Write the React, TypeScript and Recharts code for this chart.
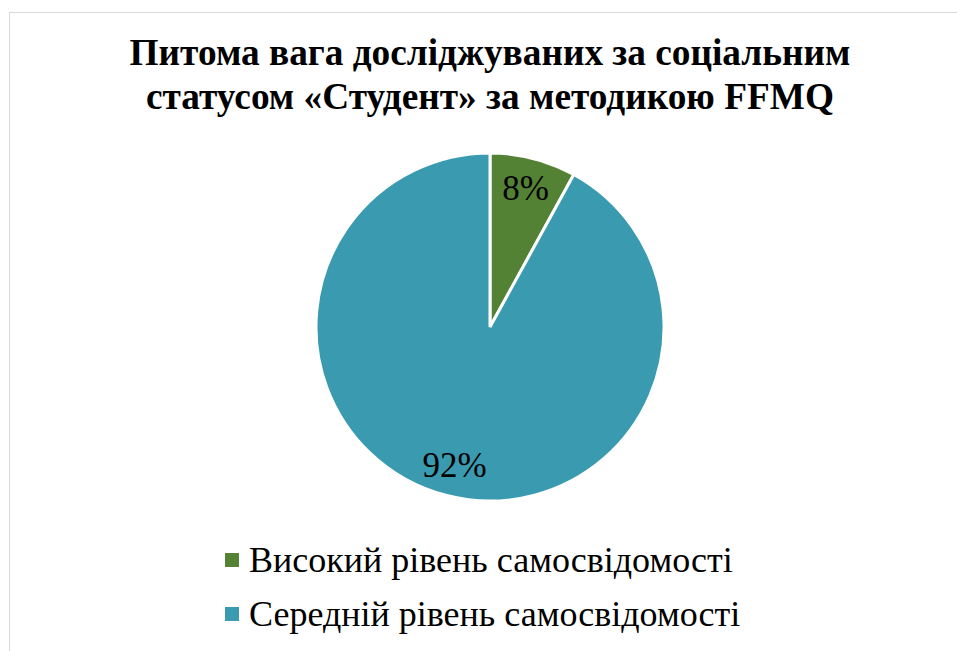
import { Cell, Legend, Pie, PieChart } from "recharts";

const levels = ["Високий рівень самосвідомості", "Середній рівень самосвідомості"];
const shares = [8, 92];
const colors = ["#548235", "#3A9AB0"];

const chartData = levels.map((name, i) => ({ name, value: shares[i], color: colors[i] }));

// no generic fallback: with one the regular face swapped to sans at large sizes
const SERIF = "Tinos";
const RAD = Math.PI / 180;

function renderLabel(props: any) {
  const { cx, cy, midAngle, outerRadius, value } = props;
  const r = outerRadius * 0.82;
  const x = cx + r * Math.cos(-midAngle * RAD);
  const y = cy + r * Math.sin(-midAngle * RAD);
  return (
    <text
      x={x}
      y={y}
      textAnchor="middle"
      dominantBaseline="central"
      fill="#000"
      style={{ fontFamily: SERIF, fontSize: 35 }}
    >
      {`${value}%`}
    </text>
  );
}

function LegendList({ payload }: any) {
  return (
    <div>
      {(payload || []).map((entry: any) => (
        <div
          key={entry.value}
          style={{ display: "flex", alignItems: "center", height: 54 }}
        >
          <span
            style={{
              width: 14,
              height: 14,
              background: entry.color,
              marginRight: 10,
              display: "inline-block",
              flex: "none",
            }}
          />
          <span style={{ fontFamily: SERIF, fontSize: 36, color: "#000", whiteSpace: "nowrap" }}>
            {entry.value}
          </span>
        </div>
      ))}
    </div>
  );
}

export default function App() {
  return (
    <div style={{ position: "fixed", left: 0, top: 0, width: 957, height: 651, background: "#fff", overflow: "hidden" }}>
      <div
        style={{
          position: "absolute",
          left: 9,
          top: 12,
          width: 1000,
          height: 700,
          border: "1px solid #d9d9d9",
          boxSizing: "border-box",
        }}
      />
      <div
        style={{
          position: "absolute",
          left: 0,
          top: 31,
          width: 980,
          textAlign: "center",
          fontFamily: "'Liberation Serif', serif",
          fontWeight: "bold",
          fontSize: 37.3,
          lineHeight: "44px",
          color: "#000",
        }}
      >
        Питома вага досліджуваних за соціальним
        <br />
        статусом «Студент» за методикою FFMQ
      </div>
      <div style={{ position: "absolute", left: 0, top: 0 }}>
        <PieChart width={957} height={651} margin={{ top: 0, right: 0, bottom: 0, left: 0 }}>
          <Pie
            data={chartData}
            dataKey="value"
            nameKey="name"
            cx={490}
            cy={327}
            outerRadius={174}
            startAngle={90}
            endAngle={-270}
            stroke="#fff"
            strokeWidth={3}
            label={renderLabel}
            labelLine={false}
            isAnimationActive={false}
          >
            {chartData.map((entry, index) => (
              <Cell key={`cell-${index}`} fill={entry.color} />
            ))}
          </Pie>
          <Legend
            layout="vertical"
            content={<LegendList />}
            wrapperStyle={{ position: "absolute", left: 225, top: 533, width: 650 }}
          />
        </PieChart>
      </div>
    </div>
  );
}
